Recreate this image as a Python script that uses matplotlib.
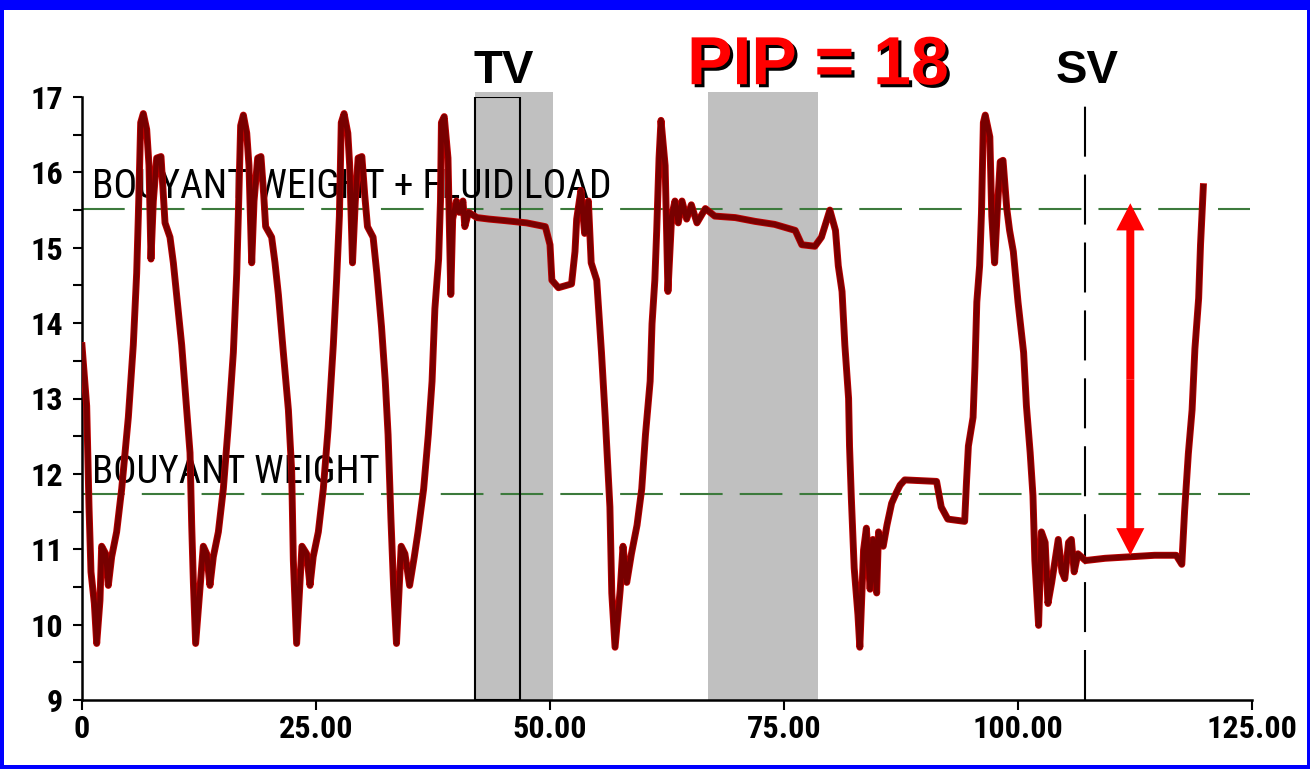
import matplotlib
matplotlib.use("Agg")
import matplotlib.pyplot as plt
import matplotlib.patheffects as pe
from matplotlib.patches import Rectangle, FancyArrow
from matplotlib.ticker import MultipleLocator

# === Carga del dinamometro (klb) vs tiempo (s) ===
# carreras normales de bombeo
t_bombeo = [0.0, 0.5, 0.75, 0.96, 1.32, 1.57, 1.92, 2.1, 2.53, 2.81, 3.17, 3.7, 4.24, 4.95,
            5.48, 5.84, 6.02, 6.27, 6.55, 6.91, 7.16, 7.37, 7.62, 7.98, 8.44, 8.69, 8.87,
            9.4, 9.76, 10.1, 10.65, 11.18, 11.54, 11.72, 11.9, 12.14,
            12.5, 12.96, 13.32, 13.67, 14.03, 14.57, 15.1, 15.64, 16.17, 16.53, 16.7, 16.95,
            17.24, 17.6, 17.84, 18.13, 18.38, 18.77, 19.12, 19.41, 19.62, 20.26, 20.62,
            20.98, 21.51, 22.05, 22.4, 22.58, 22.93,
            23.5, 24.0, 24.36, 24.7, 25.25, 25.78, 26.3, 26.85, 27.2, 27.5, 27.7, 28.0,
            28.4, 28.6, 28.9, 29.2, 29.5, 29.9, 30.2, 30.5, 31.1, 31.5, 32.0, 32.4, 32.7,
            33.0, 33.3, 33.6,
            34.1, 34.5, 35.0, 35.5, 35.9, 36.5, 37.0, 37.4, 37.7, 38.1, 38.3, 38.4, 38.7,
            39.1, 39.4, 39.6, 40.0, 40.3, 40.7, 40.9, 41.3, 42.2]
carga_bombeo = [13.7, 12.9, 11.56, 10.7, 10.28, 9.75, 10.32, 11.04, 10.94, 10.52, 10.9, 11.23,
                11.8, 12.75, 13.71, 14.66, 15.42, 16.66, 16.78, 16.57, 16.09, 14.85, 15.62,
                16.19, 16.21, 15.71, 15.33, 15.14, 14.8, 14.38, 13.71, 12.85, 12.28, 11.32,
                10.56, 9.75,
                10.32, 11.04, 10.94, 10.52, 10.9, 11.23, 11.8, 12.66, 13.61, 14.66, 15.42,
                16.62, 16.76, 16.52, 16.09, 14.8, 15.62, 16.19, 16.21, 15.71, 15.28, 15.14,
                14.8, 14.38, 13.61, 12.85, 12.04, 10.85, 9.75,
                11.04, 10.94, 10.52, 10.9, 11.23, 11.8, 12.61, 13.71, 14.57, 15.42, 16.66,
                16.78, 16.52, 16.09, 14.8, 15.62, 16.19, 16.21, 15.71, 15.28, 15.14, 14.66,
                13.95, 13.23, 12.52, 11.42, 10.47, 9.75,
                11.04, 10.94, 10.52, 10.9, 11.23, 11.8, 12.52, 13.23, 14.19, 14.85, 15.62,
                16.66, 16.74, 16.19, 14.38, 15.38, 15.62, 15.47, 15.62, 15.28, 15.47, 15.4]

# prueba de valvula viajera (TV) y lectura de PIP
t_tv = [43.5, 45.2, 47.5, 49.5, 50.0, 50.2, 50.9, 52.3, 52.67, 52.85, 53.3, 53.7, 54.1, 54.4,
        54.99, 55.5, 55.9, 56.4, 56.6, 56.95, 57.5, 57.8, 58.2, 58.7, 59.3, 59.8, 60.2, 60.7,
        60.9, 61.2, 61.4, 61.65, 61.86, 62.3, 62.6, 63.0, 63.35, 63.7, 64.1, 64.6, 65.1,
        65.7, 66.6, 67.6, 69.8, 71.9, 74.0, 76.2, 76.9, 78.3, 79.0, 79.9, 80.5, 80.8]
carga_tv = [15.38, 15.36, 15.33, 15.28, 15.04, 14.57, 14.47, 14.52, 14.95, 15.38, 15.76, 15.19,
            15.62, 14.8, 14.57, 13.61, 12.75, 11.56, 10.42, 9.7, 10.46, 11.04, 10.56, 10.94,
            11.32, 11.8, 12.52, 13.23, 13.99, 14.57, 15.23, 16.19, 16.69, 16.09, 14.42, 15.42,
            15.62, 15.33, 15.62, 15.38, 15.57, 15.33, 15.52, 15.42, 15.4, 15.35, 15.31, 15.23,
            15.04, 15.02, 15.14, 15.5, 15.23, 14.76]

# prueba de valvula fija (SV)
t_sv = [81.2, 81.5, 81.9, 82.0, 82.2, 82.5, 82.9, 83.1, 83.5, 83.8, 84.2, 84.5, 84.9, 85.1,
        85.6, 86.0, 86.5, 87.0, 87.4, 87.9, 91.3, 91.8, 92.5, 94.3, 94.5, 94.7, 95.2, 95.4,
        95.6, 95.9, 96.1, 96.3, 96.5, 96.99, 97.2, 97.5, 97.8, 98.1, 98.4, 98.8, 99.1, 99.5,
        100.0, 100.6, 100.9, 101.3, 101.6, 101.8, 102.2, 102.5, 102.9, 103.2, 103.6, 104.3,
        104.7, 105.0, 105.4, 105.7, 106.0, 106.4, 107.2, 109.3, 112.0, 114.6, 116.9, 117.5,
        117.8, 118.2, 118.6, 118.9, 119.3, 119.5, 119.8]
carga_sv = [14.42, 13.71, 13.0, 12.37, 11.66, 10.75, 10.13, 9.7, 10.99, 11.28, 10.47, 11.13,
            10.42, 11.23, 11.04, 11.32, 11.61, 11.75, 11.85, 11.92, 11.9, 11.56, 11.4, 11.37,
            11.9, 12.37, 12.75, 13.42, 14.28, 14.76, 15.47, 16.66, 16.76, 16.47, 15.42, 14.8,
            15.52, 16.14, 16.16, 15.52, 15.23, 14.95, 14.28, 13.61, 12.9, 12.28, 11.71, 10.85,
            9.99, 11.23, 11.09, 10.28, 10.56, 11.13, 10.7, 10.61, 11.09, 11.13, 10.7, 10.94,
            10.85, 10.88, 10.9, 10.92, 10.92, 10.8, 11.51, 12.27, 12.85, 13.66, 14.33, 15.04,
            15.81]

# niveles de referencia
PESO_FLOTANTE = 11.73
PESO_MAS_FLUIDO = 15.52

# zonas marcadas
CAJA_TV = (42.0, 46.8)
SOMBRA_TV = (42.0, 50.3)
SOMBRA_PIP = (66.9, 78.6)
T_SV = 107.2
FLECHA_X = 112.0
FLECHA_Y = (10.92, 15.59)

X_TICKS = [0, 25, 50, 75, 100, 125]
X_LABELS = ["0", "25.00", "50.00", "75.00", "100.00", "125.00"]
Y_TICKS = [9, 10, 11, 12, 13, 14, 15, 16, 17]

# letra angosta si existe; si no, se ajusta el tamano al ancho deseado
NARROW = ["Liberation Sans Narrow", "Roboto Condensed", "DejaVu Sans Condensed",
          "Liberation Sans", "DejaVu Sans"]
ARIAL = ["Liberation Sans", "DejaVu Sans"]

W, H = 1310, 769
fig = plt.figure(figsize=(W / 100, H / 100), dpi=100, facecolor="#0000FF")
fig.patches.append(Rectangle((4 / W, 4 / H), 1303 / W, 755 / H, transform=fig.transFigure,
                             facecolor="white", edgecolor="none", zorder=-10))

ax = fig.add_axes([82 / W, 69 / H, 1170 / W, 603 / H])
ax.set_facecolor("white")
ax.set_xlim(0, 125)
ax.set_ylim(9, 17)

# sombras grises y caja de la TV
for x0, x1 in (SOMBRA_TV, SOMBRA_PIP):
    ax.add_patch(Rectangle((x0, 9), x1 - x0, 8.06, facecolor="#C0C0C0", edgecolor="none",
                           zorder=0, clip_on=False))
ax.add_patch(Rectangle((CAJA_TV[0], 9), CAJA_TV[1] - CAJA_TV[0], 8, facecolor="none",
                       edgecolor="black", lw=1.5, zorder=3))

# lineas de referencia
for nivel in (PESO_MAS_FLUIDO, PESO_FLOTANTE):
    ax.plot([0, 124.8], [nivel, nivel], color="#3C7A3C", lw=1.5, dashes=(20.5, 8.2), zorder=2)
ax.plot([T_SV, T_SV], [9, 17], color="black", lw=1.5, dashes=(24, 8.6), zorder=3)

txt_fluido = ax.text(1.05, 15.66, "BOUYANT WEIGHT + FLUID LOAD", family=NARROW, fontsize=28,
                     color="black", va="baseline", ha="left", zorder=2)
txt_flotante = ax.text(1.05, 11.88, "BOUYANT WEIGHT", family=NARROW, fontsize=28,
                       color="black", va="baseline", ha="left", zorder=2)

# traza de carga
t_total = t_bombeo + t_tv + t_sv
carga_total = carga_bombeo + carga_tv + carga_sv
ax.plot(t_total, carga_total, color="#C00000", lw=5.0, zorder=4)
ax.plot(t_total, carga_total, color="#780000", lw=3.8, zorder=5)

# flecha doble de PIP
medio = (FLECHA_Y[0] + FLECHA_Y[1]) / 2
for destino in FLECHA_Y:
    ax.add_patch(FancyArrow(FLECHA_X, medio, 0, destino - medio, width=0.85, head_width=3.0,
                            head_length=0.36, length_includes_head=True, color="#FF0000",
                            lw=0, zorder=6))

ax.text(45.1, 17.19, "TV", family=ARIAL, fontsize=34, fontweight="bold", ha="center",
        va="baseline")
ax.text(107.4, 17.19, "SV", family=ARIAL, fontsize=34, fontweight="bold", ha="center",
        va="baseline")
ax.text(78.6, 17.17, "PIP = 18", family=ARIAL, fontsize=49, fontweight="bold", color="#FF0000",
        ha="center", va="baseline",
        path_effects=[pe.withSimplePatchShadow(offset=(2.2, -2.2), shadow_rgbFace="black",
                                               alpha=1.0)])

# ejes
for lado in ("top", "right"):
    ax.spines[lado].set_visible(False)
for lado in ("left", "bottom"):
    ax.spines[lado].set_linewidth(1.8)
ax.set_xticks(X_TICKS)
ax.set_xticklabels(X_LABELS)
ax.set_yticks(Y_TICKS)
ax.yaxis.set_minor_locator(MultipleLocator(0.5))
ax.tick_params(axis="x", length=7, width=1.5, pad=3, labelsize=25)
ax.tick_params(axis="y", which="both", length=6.5, width=1.5, pad=7, labelsize=25)
for lbl in ax.get_xticklabels() + ax.get_yticklabels():
    lbl.set_family(NARROW)
    lbl.set_fontweight("bold")


def ajustar_ancho(texto, ancho_px, rend):
    ancho = texto.get_window_extent(rend).width
    return texto.get_fontsize() * ancho_px / ancho


fig.canvas.draw()
rend = fig.canvas.get_renderer()
txt_fluido.set_fontsize(ajustar_ancho(txt_fluido, 521, rend))
txt_flotante.set_fontsize(ajustar_ancho(txt_flotante, 288, rend))
size_ticks = ajustar_ancho(ax.get_xticklabels()[-1], 91, rend)
for lbl in ax.get_xticklabels() + ax.get_yticklabels():
    lbl.set_fontsize(size_ticks)

fig.savefig("out.png", dpi=100, facecolor=fig.get_facecolor())
